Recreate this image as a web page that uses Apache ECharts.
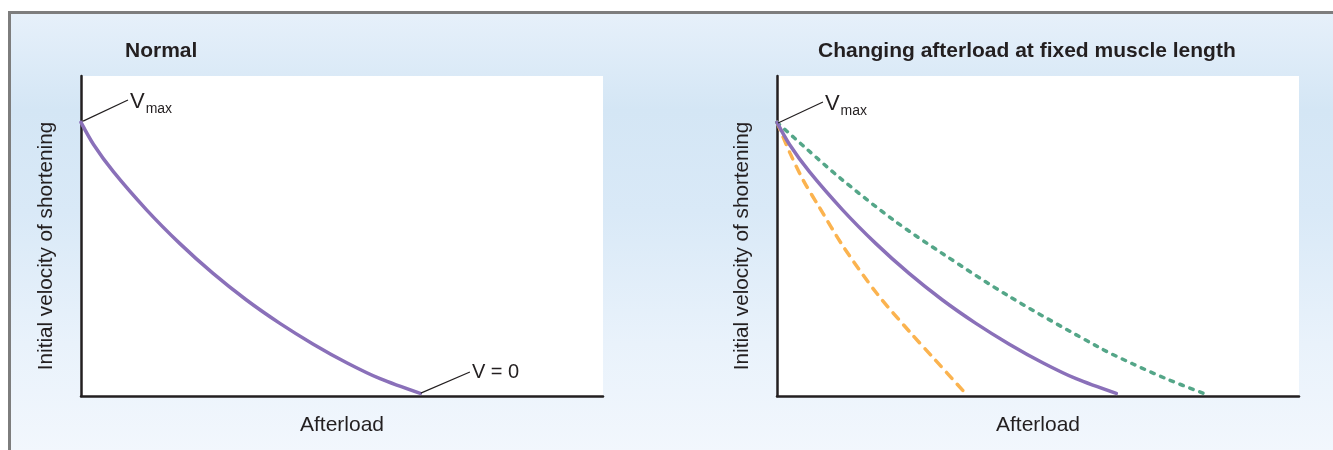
<!DOCTYPE html>
<html>
<head>
<meta charset="utf-8">
<script src="https://cdn.jsdelivr.net/npm/echarts@6/dist/echarts.min.js"></script>
<style>
  html, body { margin: 0; padding: 0; background: #ffffff; }
  #frame {
    position: absolute; left: 8px; top: 11px; width: 1325px; height: 439px;
    border-top: 3px solid #7d7d7d; border-left: 3px solid #7d7d7d;
    background: linear-gradient(to bottom, #e6f0fa 0%, #d4e6f5 22%, #d9e9f7 45%, #e9f2fb 75%, #f2f7fd 100%);
  }
  #chart { position: absolute; left: 0; top: 0; width: 1333px; height: 450px; }
</style>
</head>
<body>
<div id="frame"></div>
<div id="chart"></div>
<script>
// Normal force-velocity curve (also the reference curve on the right panel)
const normalX = [0, 2.4, 6.2, 12.6, 18.9, 25.3, 31.7, 38.1, 44.5, 50.9, 57.3, 65.0];
const normalY = [85.5, 78.6, 70.1, 58.1, 47.7, 38.3, 30.0, 22.7, 16.2, 10.4, 5.4, 0.8];
// Green dashed curve (right panel)
const greenX = [0, 5.7, 12.1, 22.3, 31.9, 44.6, 61.9, 68.2, 74.7, 81.6];
const greenY = [85.5, 77.2, 68.1, 55.0, 44.3, 31.0, 15.0, 10.0, 5.3, 0.9];
// Orange dashed curve (right panel)
const orangeX = [0, 2.5, 5.0, 8.2, 12.7, 19.1, 25.5, 29.9, 36.0];
const orangeY = [85.5, 75.9, 67.5, 58.75, 46.7, 32.1, 19.9, 12.0, 1.0];
// Annotation leader lines
const vmaxLeaderLeft = [[0.4, 85.9], [9.0, 92.5]];
const vmaxLeaderRight = [[0.2, 85.3], [8.8, 91.9]];
const zeroLeader = [[65.1, 0.9], [74.5, 7.5]];

const titles = ['Normal', 'Changing afterload at fixed muscle length'];
const xName = 'Afterload';
const yName = 'Initial velocity of shortening';

const zip = (xs, ys) => xs.map((x, i) => [x, ys[i]]);
const FONT = '"Liberation Sans", Arial, Helvetica, sans-serif';
const TXT = '#231f20';

const axisLine = { show: true, onZero: false, lineStyle: { color: TXT, width: 2.5 } };
function xAxis(idx) {
  return {
    type: 'value', gridIndex: idx, min: 0, max: 100,
    axisLine, axisTick: { show: false }, axisLabel: { show: false }, splitLine: { show: false },
    name: xName, nameLocation: 'middle', nameGap: 19,
    nameTextStyle: { fontFamily: FONT, fontSize: 21, color: TXT }
  };
}
function yAxis(idx) {
  return {
    type: 'value', gridIndex: idx, min: 0, max: 100,
    axisLine, axisTick: { show: false }, axisLabel: { show: false }, splitLine: { show: false },
    name: yName, nameLocation: 'middle', nameGap: 24,
    nameTextStyle: { fontFamily: FONT, fontSize: 20.7, color: TXT, padding: [0, 20, 0, 0] }
  };
}
const vmaxRich = {
  v: { fontFamily: FONT, fontSize: 22, color: TXT, lineHeight: 26, verticalAlign: 'bottom' },
  s: { fontFamily: FONT, fontSize: 14, color: TXT, lineHeight: 26, verticalAlign: 'bottom', padding: [0, 0, -3, 1] }
};
function leader(idx, data, label) {
  return {
    type: 'line', xAxisIndex: idx, yAxisIndex: idx, data, showSymbol: false, symbol: 'none',
    silent: true, z: 5,
    lineStyle: { color: TXT, width: 1.2 },
    endLabel: Object.assign({ show: true, distance: 2 }, label)
  };
}
function curve(idx, data, color, type) {
  return {
    type: 'line', xAxisIndex: idx, yAxisIndex: idx, data, showSymbol: false, symbol: 'none',
    smooth: 0.3, silent: true, z: 3,
    lineStyle: { color, width: 3.5, type, cap: 'round' }
  };
}

const chart = echarts.init(document.getElementById('chart'), null, { renderer: 'canvas' });
chart.setOption({
  animation: false,
  backgroundColor: 'transparent',
  title: [
    { text: titles[0], left: 125, top: 41, padding: 0, textStyle: { fontFamily: FONT, fontSize: 21, fontWeight: 'bold', color: TXT } },
    { text: titles[1], left: 818, top: 41, padding: 0, textStyle: { fontFamily: FONT, fontSize: 21, fontWeight: 'bold', color: TXT } }
  ],
  grid: [
    { left: 81, top: 76, width: 522, height: 320, show: true, backgroundColor: '#ffffff', borderWidth: 0 },
    { left: 777, top: 76, width: 522, height: 320, show: true, backgroundColor: '#ffffff', borderWidth: 0 }
  ],
  xAxis: [xAxis(0), xAxis(1)],
  yAxis: [yAxis(0), yAxis(1)],
  series: [
    curve(0, zip(normalX, normalY), '#8a70b9', 'solid'),
    leader(0, vmaxLeaderLeft, { formatter: '{v|V}{s|max}', rich: vmaxRich }),
    leader(0, zeroLeader, { formatter: 'V = 0', fontFamily: FONT, fontSize: 20, color: TXT }),
    curve(1, zip(orangeX, orangeY), '#fbb34f', [8, 8]),
    curve(1, zip(greenX, greenY), '#54a688', [3.5, 7]),
    curve(1, zip(normalX, normalY), '#8a70b9', 'solid'),
    leader(1, vmaxLeaderRight, { formatter: '{v|V}{s|max}', rich: vmaxRich })
  ]
});
</script>
</body>
</html>
